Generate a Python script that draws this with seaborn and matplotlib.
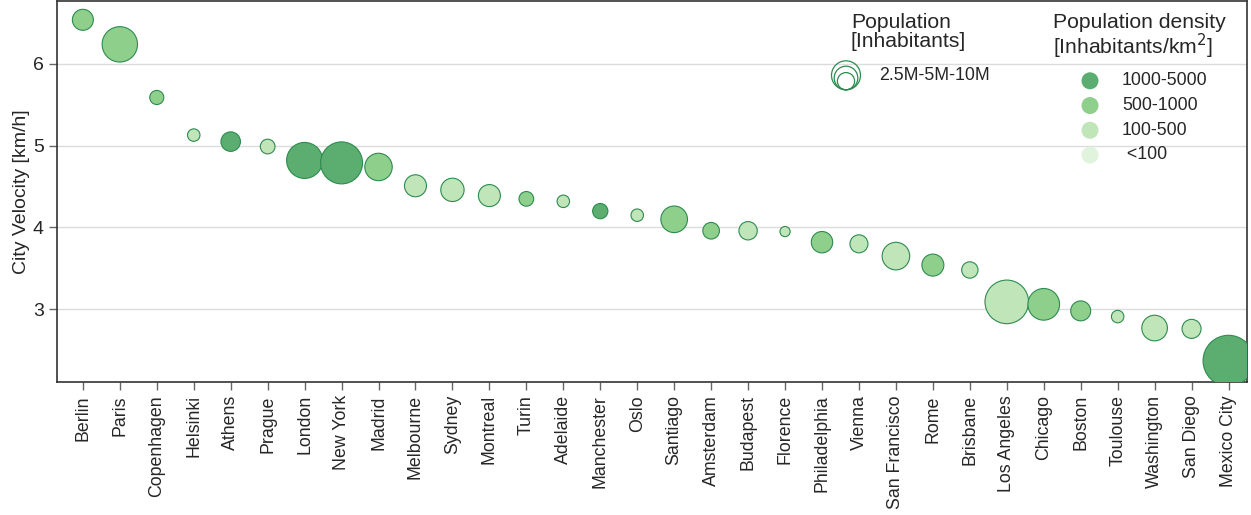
import matplotlib
matplotlib.use("Agg")
import matplotlib.pyplot as plt
import seaborn as sns
import pandas as pd

cities = ["Berlin", "Paris", "Copenhagen", "Helsinki", "Athens", "Prague", "London",
          "New York", "Madrid", "Melbourne", "Sydney", "Montreal", "Turin", "Adelaide",
          "Manchester", "Oslo", "Santiago", "Amsterdam", "Budapest", "Florence",
          "Philadelphia", "Vienna", "San Francisco", "Rome", "Brisbane", "Los Angeles",
          "Chicago", "Boston", "Toulouse", "Washington", "San Diego", "Mexico City"]

velocity = [6.54, 6.24, 5.59, 5.13, 5.05, 4.99, 4.82, 4.79, 4.74, 4.51, 4.46, 4.39,
            4.35, 4.32, 4.20, 4.15, 4.10, 3.96, 3.96, 3.95, 3.82, 3.80, 3.65, 3.54,
            3.48, 3.09, 3.06, 2.98, 2.91, 2.77, 2.76, 2.37]

# population in millions of inhabitants
population = [5.1, 14.5, 2.3, 1.8, 4.4, 2.5, 15.0, 20.4, 8.7, 5.6, 6.3, 5.6,
              2.5, 1.8, 2.7, 1.8, 8.2, 3.2, 3.9, 1.2, 5.3, 3.75, 8.8, 5.6,
              3.1, 22.0, 11.6, 4.6, 1.8, 7.6, 4.2, 30.0]

density = ["500-1000", "500-1000", "500-1000", "100-500", "1000-5000", "100-500",
           "1000-5000", "1000-5000", "500-1000", "100-500", "100-500", "100-500",
           "500-1000", "100-500", "1000-5000", "100-500", "500-1000", "500-1000",
           "100-500", "100-500", "500-1000", "100-500", "100-500", "500-1000",
           "100-500", "100-500", "500-1000", "500-1000", "100-500", "100-500",
           "100-500", "1000-5000"]

density_classes = ["1000-5000", "500-1000", "100-500", "<100"]
density_colors = ["#5bae6f", "#8ecf8c", "#bfe5b9", "#e0f3dc"]
population_legend = "2.5M-5M-10M"

df = pd.DataFrame({"city": cities, "velocity": velocity,
                   "population": population, "density": density})

sns.set_theme(style="ticks")
plt.rcParams["font.family"] = ["Liberation Sans", "DejaVu Sans"]
FS = 12.8          # tick and key labels
FS_LABEL = 14.0    # axis label and y tick labels
FS_TITLE = 15.2    # key titles

fig = plt.figure(figsize=(12.51, 5.15), dpi=100)
ax = fig.add_axes([57 / 1251, 133 / 515, 1190 / 1251, 381 / 515])

palette = dict(zip(density_classes, density_colors))
sns.scatterplot(data=df, x="city", y="velocity", hue="density", palette=palette,
                size="population", sizes=(0, 1344), size_norm=(0, 30),
                edgecolor="#2e8b50", linewidth=0.8, legend=False, ax=ax, zorder=3)

ax.set_xlim(-0.7, 31.5)
ax.set_ylim(2.11, 6.77)
ax.set_yticks([3, 4, 5, 6])
ax.yaxis.grid(True, color="#dcdcdc", linewidth=1.0)
ax.set_axisbelow(True)
ax.set_xlabel("")
ax.set_ylabel("City Velocity [km/h]", fontsize=FS_LABEL, labelpad=2)
ax.tick_params(axis="x", rotation=90, labelsize=FS, length=6, color="#666666", width=1)
ax.tick_params(axis="y", labelsize=FS_LABEL, length=6, color="#666666", width=1)
for side in ["left", "right", "top", "bottom"]:
    ax.spines[side].set_color("#333333")
    ax.spines[side].set_linewidth(1.2)

# population size key: concentric circles sharing a bottom point
def ax_xy(px, py):
    return (px - 57) / 1190, (382 - py) / 382

tx, ty = ax_xy(851, 12)
ax.text(tx, ty, "Population\n[Inhabitants]", transform=ax.transAxes, fontsize=FS_TITLE,
        ha="left", va="top", linespacing=1.0)
for r in [14.5, 11.8, 8.6]:
    cx, cy = ax_xy(846, 89 - r)
    ax.scatter([cx], [cy], s=(2 * r * 0.72) ** 2, transform=ax.transAxes,
               facecolor="none", edgecolor="#2e8b50", linewidth=0.9, clip_on=False,
               zorder=4)
lx, ly = ax_xy(879, 75)
ax.text(lx, ly, population_legend, transform=ax.transAxes, fontsize=FS,
        ha="left", va="center")

# density colour key
tx, ty = ax_xy(1053, 12)
ax.text(tx, ty, "Population density\n[Inhabitants/km$^2$]", transform=ax.transAxes,
        fontsize=FS_TITLE, ha="left", va="top", linespacing=1.0)
for i, (lab, col) in enumerate(zip(density_classes, density_colors)):
    py = 80 + i * 24.8
    mx, my = ax_xy(1090, py)
    ax.scatter([mx], [my], s=(2 * 8.5 * 0.72) ** 2, transform=ax.transAxes,
               color=col, edgecolor="none", clip_on=False, zorder=4)
    lx, ly = ax_xy(1122, py)
    ax.text(lx, ly, (" " + lab) if lab.startswith("<") else lab,
            transform=ax.transAxes, fontsize=FS, ha="left", va="center")

fig.savefig("out.png", dpi=100)
